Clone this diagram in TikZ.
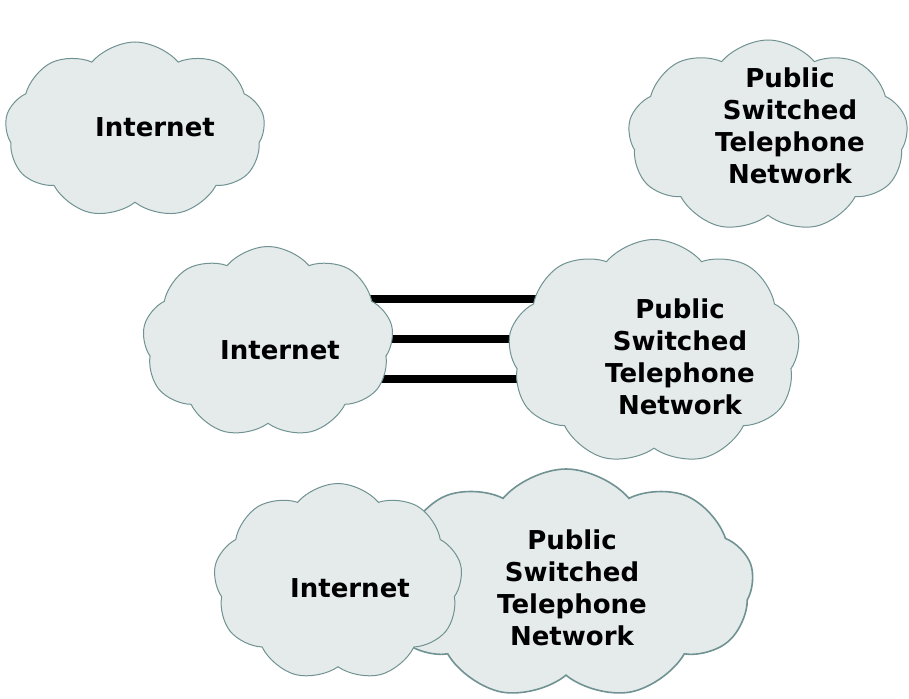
\documentclass[tikz,border=0pt]{standalone}
\usepackage{fontspec}
\setmainfont{DejaVu Sans}
\usetikzlibrary{shapes.symbols,backgrounds}
\definecolor{cloudfill}{RGB}{229,235,235}
\definecolor{cloudline}{RGB}{112,146,146}
\tikzset{
  netcloud/.style={cloud, cloud puffs=9, cloud puff arc=100, draw=cloudline, fill=cloudfill, line width=1pt, inner sep=0pt},
  netlabel/.style={font=\fontsize{26}{32}\selectfont\bfseries, align=center, text=black},
  trunk/.style={line width=8pt, black}
}
\begin{document}
\begin{tikzpicture}[x=1pt,y=-1pt]
\useasboundingbox (0,0) rectangle (909,698);
% top row: the two networks apart
\node[netcloud, minimum width=260pt, minimum height=176pt] (inetA) at (135,130) {};
\node[netlabel] (inetAtext) at (155,127) {Internet};
\node[netcloud, minimum width=280pt, minimum height=192pt] (pstnA) at (768,136) {};
\node[netlabel] (pstnAtext) at (790,126) {Public\\Switched\\Telephone\\Network};
% middle row: joined by trunks
\node[netcloud, minimum width=251pt, minimum height=191pt] (inetB) at (268,342) {};
\node[netlabel] (inetBtext) at (280,350) {Internet};
\node[netcloud, minimum width=292pt, minimum height=225pt] (pstnB) at (654,352) {};
\node[netlabel] (pstnBtext) at (680,357) {Public\\Switched\\Telephone\\Network};
\begin{pgfonlayer}{background}
\foreach \y in {299,339,379}
  \draw[trunk] (inetB.center |- 0,\y) -- (pstnB.center |- 0,\y);
\end{pgfonlayer}
% bottom row: overlapping
\node[netcloud, line width=1.6pt, minimum width=375pt, minimum height=230pt] (pstnC) at (566,584) {};
\node[netlabel] (pstnCtext) at (572,588) {Public\\Switched\\Telephone\\Network};
\node[netcloud, minimum width=249pt, minimum height=197pt] (inetC) at (338,582) {};
\node[netlabel] (inetCtext) at (350,588) {Internet};
\end{tikzpicture}
\end{document}
